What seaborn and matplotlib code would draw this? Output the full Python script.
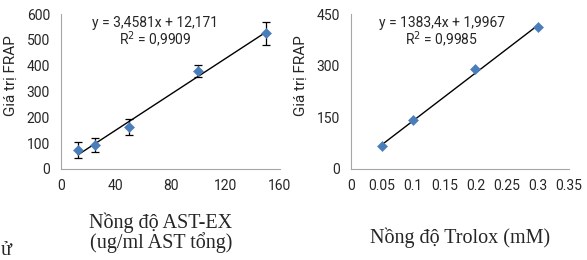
import numpy as np
import pandas as pd
import matplotlib
matplotlib.use("Agg")
import matplotlib.pyplot as plt
import seaborn as sns

# AST-EX standard data (left panel)
ast_conc = [12.5, 25, 50, 100, 150]
ast_frap = [73, 92, 162, 381, 525]
ast_err = [30, 27, 30, 23, 45]
ast_slope, ast_icpt = 3.4581, 12.171

# Trolox standard data (right panel)
tro_conc = [0.05, 0.1, 0.2, 0.3]
tro_frap = [68, 142, 289, 413]
tro_slope, tro_icpt = 1383.4, 1.9967

sns.set_theme(style="white")
plt.rcParams['font.family'] = ['Roboto', 'DejaVu Sans']

BLUE = "#4a7ebb"
GREY = "#a6a6a6"
TXT = "#262626"

fig = plt.figure(figsize=(5.87, 2.60), dpi=100)
ax1 = fig.add_axes([0.104, 0.35, 0.373, 0.596])
ax2 = fig.add_axes([0.598, 0.35, 0.371, 0.596])


def style_axis(ax):
    for s in ["top", "right"]:
        ax.spines[s].set_visible(False)
    for s in ["left", "bottom"]:
        ax.spines[s].set_color(GREY)
        ax.spines[s].set_linewidth(0.8)
    ax.tick_params(axis="both", which="both", direction="out", length=3.5,
                   width=0.8, color=GREY, labelsize=10, labelcolor=TXT)
    ax.tick_params(axis="x", pad=3.5)
    ax.tick_params(axis="y", pad=4.5)
    ax.set_ylabel("Giá trị FRAP", fontsize=11, color=TXT)
    ax.yaxis.set_label_coords(-0.197, 0.6)
    ax.set_xlabel("")


# left panel
df1 = pd.DataFrame({"x": ast_conc, "y": ast_frap})
xs = np.array([min(ast_conc), max(ast_conc)])
sns.lineplot(x=xs, y=ast_slope * xs + ast_icpt, ax=ax1, color="black", lw=1)
ax1.errorbar(ast_conc, ast_frap, yerr=ast_err, fmt="none", ecolor="black",
             elinewidth=0.9, capsize=3, capthick=0.9)
sns.scatterplot(data=df1, x="x", y="y", ax=ax1, marker="D", color=BLUE,
                s=26, edgecolor=BLUE, zorder=3)
ax1.set_xlim(0, 160)
ax1.set_ylim(0, 600)
ax1.set_xticks([0, 40, 80, 120, 160])
ax1.set_xticks([20, 60, 100, 140], minor=True)
ax1.set_yticks([0, 100, 200, 300, 400, 500, 600])
style_axis(ax1)
ax1.text(0.43, 0.985, "y = 3,4581x + 12,171\nR$^2$ = 0,9909", transform=ax1.transAxes,
         ha="center", va="top", fontsize=10, color=TXT, linespacing=1.0)

# right panel
df2 = pd.DataFrame({"x": tro_conc, "y": tro_frap})
xs2 = np.array([min(tro_conc), max(tro_conc)])
sns.lineplot(x=xs2, y=tro_slope * xs2 + tro_icpt, ax=ax2, color="black", lw=1)
sns.scatterplot(data=df2, x="x", y="y", ax=ax2, marker="D", color=BLUE,
                s=26, edgecolor=BLUE, zorder=3)
ax2.set_xlim(0, 0.35)
ax2.set_ylim(0, 450)
ax2.set_xticks([0, 0.05, 0.1, 0.15, 0.2, 0.25, 0.3, 0.35])
ax2.set_xticklabels(["0", "0.05", "0.1", "0.15", "0.2", "0.25", "0.3", "0.35"])
ax2.set_yticks([0, 150, 300, 450])
style_axis(ax2)
ax2.text(0.417, 0.985, "y = 1383,4x + 1,9967\nR$^2$ = 0,9985", transform=ax2.transAxes,
         ha="center", va="top", fontsize=10, color=TXT, linespacing=1.0)

# captions below the panels (serif, as in the source document)
serif = ["Liberation Serif", "DejaVu Serif"]
fig.text(161 / 587, 1 - 228 / 260, "Nồng độ AST-EX", ha="center", va="baseline",
         fontsize=14.5, family=serif)
fig.text(161 / 587, 1 - 248 / 260, "(ug/ml AST tổng)", ha="center", va="baseline",
         fontsize=14.5, family=serif)
fig.text(460 / 587, 1 - 243 / 260, "Nồng độ Trolox (mM)", ha="center", va="baseline",
         fontsize=14.5, family=serif)
fig.text(1 / 587, 1 - 255 / 260, "ử", ha="left", va="baseline",
         fontsize=14.5, family=serif)

fig.savefig("out.png", dpi=100)
